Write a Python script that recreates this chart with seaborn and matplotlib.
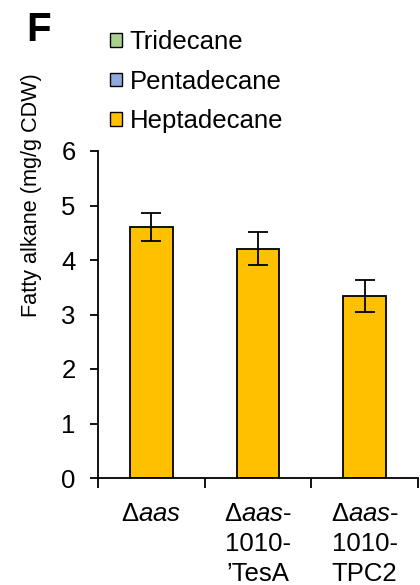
import matplotlib
matplotlib.use("Agg")
import matplotlib.pyplot as plt
import seaborn as sns
import pandas as pd
import numpy as np
from matplotlib.patches import Patch
from matplotlib.ticker import FixedLocator

# ---- data ----
strains = ["Δaas", "Δaas-1010-'TesA", "Δaas-1010-TPC2"]
tick_labels = ["Δ$\\mathit{aas}$",
               "Δ$\\mathit{aas}$-\n1010-\n’TesA",
               "Δ$\\mathit{aas}$-\n1010-\nTPC2"]
series = ["Tridecane", "Pentadecane", "Heptadecane"]
tridecane = [0.0, 0.0, 0.0]
pentadecane = [0.0, 0.0, 0.0]
heptadecane = [4.60, 4.21, 3.34]
heptadecane_err = [0.26, 0.31, 0.29]
series_colors = ["#A9D18E", "#8FAADC", "#FFC000"]
y_ticks = [0, 1, 2, 3, 4, 5, 6]

# ---- style ----
sns.set_style("white")
plt.rcParams["font.family"] = ["Liberation Sans", "DejaVu Sans"]
plt.rcParams["mathtext.fontset"] = "custom"
plt.rcParams["mathtext.rm"] = "Liberation Sans"
plt.rcParams["mathtext.it"] = "Liberation Sans:italic"
plt.rcParams["text.color"] = "black"
plt.rcParams["axes.labelcolor"] = "black"
plt.rcParams["xtick.color"] = "black"
plt.rcParams["ytick.color"] = "black"

df = pd.DataFrame({"strain": strains, "Heptadecane": heptadecane})

fig = plt.figure(figsize=(4.2, 5.85), dpi=100)
ax = fig.add_axes([98 / 420, 1 - 478 / 585, 320 / 420, 327 / 585])

sns.barplot(data=df, x="strain", y="Heptadecane", color=series_colors[2],
            saturation=1, width=0.4, edgecolor="black", linewidth=1.3,
            errorbar=None, ax=ax)
ax.errorbar(np.arange(len(strains)), heptadecane, yerr=heptadecane_err,
            fmt="none", ecolor="black", elinewidth=1.3, capsize=7,
            capthick=1.3, zorder=5)

ax.set_xlim(-0.5, len(strains) - 0.5)
ax.set_ylim(0, 6)
ax.set_yticks(y_ticks)
ax.set_yticklabels([str(t) for t in y_ticks])
ax.set_xticks(np.arange(len(strains)))
ax.set_xticklabels(tick_labels, linespacing=1.32)
ax.xaxis.set_minor_locator(FixedLocator(np.arange(len(strains) + 1) - 0.5))

for s in ["top", "right"]:
    ax.spines[s].set_visible(False)
for s in ["left", "bottom"]:
    ax.spines[s].set_color("black")
    ax.spines[s].set_linewidth(1.3)

ax.tick_params(axis="y", which="major", direction="out", length=6, width=1.3,
               color="black", labelcolor="black", labelsize=18.5, pad=10, left=True)
ax.tick_params(axis="x", which="major", length=0, labelsize=18.5, labelcolor="black", pad=17)
ax.tick_params(axis="x", which="minor", direction="out", length=7, width=1.3,
               color="black", bottom=True)

ax.set_xlabel("")
ax.set_ylabel("Fatty alkane (mg/g CDW)", fontsize=15.6, color="black")
ax.yaxis.label.set_va("center")
ax.yaxis.set_label_coords((32 - 98) / 320, (478 - 195) / 327)

handles = [Patch(facecolor=c, edgecolor="black", linewidth=1.0) for c in series_colors]
fig.legend(handles, series, loc="upper left",
           bbox_to_anchor=(100 / 420, 1 - 20 / 585), frameon=False,
           fontsize=18.5, handlelength=0.45, handleheight=0.45,
           handletextpad=0.3, labelspacing=0.6, borderaxespad=0,
           labelcolor="black")

fig.text(26 / 420, 1 - 41 / 585, "F", fontsize=29, fontweight="bold",
         ha="left", va="baseline", color="black")

fig.savefig("out.png", dpi=100)
